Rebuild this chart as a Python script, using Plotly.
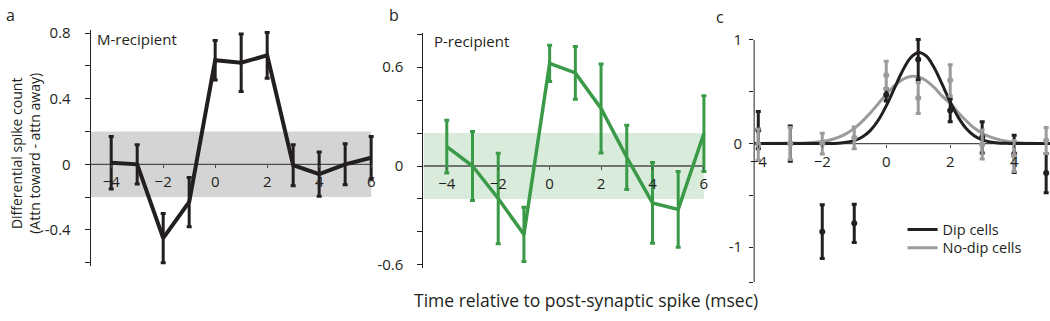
import plotly.graph_objects as go

# ---------------- data ----------------
lags_ab = [-4, -3, -2, -1, 0, 1, 2, 3, 4, 5, 6]
m_vals = [0.01, 0.0, -0.45, -0.23, 0.635, 0.62, 0.665, -0.005, -0.06, 0.0, 0.04]
m_err = [0.16, 0.12, 0.15, 0.15, 0.12, 0.175, 0.14, 0.125, 0.135, 0.125, 0.13]

p_vals = [0.117, 0.0, -0.197, -0.415, 0.623, 0.565, 0.349, 0.053, -0.224, -0.263, 0.197]
p_err = [0.16, 0.21, 0.275, 0.165, 0.11, 0.16, 0.27, 0.195, 0.245, 0.23, 0.23]

band_half = 0.2

lags_c = [-4, -3, -2, -1, 0, 1, 2, 3, 4, 5]
dip_vals = [0.13, 0.0, -0.85, -0.77, 0.47, 0.81, 0.32, 0.06, -0.10, -0.285]
dip_err = [0.18, 0.17, 0.26, 0.185, 0.06, 0.195, 0.11, 0.15, 0.18, 0.19]
nodip_vals = [-0.01, 0.0, 0.0, 0.055, 0.66, 0.44, 0.61, -0.01, -0.12, 0.03]
nodip_err = [0.15, 0.155, 0.10, 0.105, 0.135, 0.15, 0.15, 0.14, 0.15, 0.125]

fit_x = [-4.13, -3.0, -2.5, -2.0, -1.75, -1.5, -1.25, -1.0, -0.75, -0.5, -0.25, 0.0,
         0.25, 0.5, 0.75, 1.0, 1.25, 1.5, 1.75, 2.0, 2.25, 2.5, 2.75, 3.0, 3.25,
         3.5, 3.75, 4.0, 4.25, 4.5, 5.12]
dip_fit = [0.0, 0.0, 0.0, 0.0, 0.0, 0.004, 0.012, 0.028, 0.063, 0.125, 0.225, 0.364,
           0.53, 0.696, 0.824, 0.879, 0.845, 0.732, 0.571, 0.402, 0.255, 0.145, 0.075,
           0.035, 0.015, 0.005, 0.002, 0.0, 0.0, 0.0, 0.0]
nodip_fit = [0.0, 0.002, 0.005, 0.019, 0.034, 0.059, 0.096, 0.147, 0.214, 0.294, 0.384,
             0.475, 0.556, 0.616, 0.647, 0.644, 0.606, 0.541, 0.457, 0.39, 0.30, 0.22,
             0.15, 0.10, 0.065, 0.04, 0.022, 0.012, 0.006, 0.003, 0.0]

ab_xticks = [-4, -2, 0, 2, 4, 6]
c_xticks = [-4, -2, 0, 2, 4]
a_yticks = [-0.6, -0.4, -0.2, 0, 0.2, 0.4, 0.6, 0.8]
a_ytext = ["", "-0.4", "", "0", "", "0.4", "", "0.8"]
b_yticks = [-0.6, -0.4, -0.2, 0, 0.2, 0.4, 0.6, 0.8]
b_ytext = ["-0.6", "", "", "0", "", "", "0.6", ""]
c_yticks = [-1.337, -1, -0.5, 0, 0.5, 1]
c_ytext = ["", "-1", "", "0", "", "1"]

# ---------------- style ----------------
BLACK = "#231f20"
GREEN = "#3a9a47"
GREEN_BAND = "#d9ecdb"
GRAY_BAND = "#d4d4d4"
GRAY = "#9b9b9b"
AXLINE = "#4d4d4d"
FONT = "Open Sans"
W, H = 1050, 321

def px_dom_x(a, b):
    return [a / W, b / W]

def px_dom_y(top, bottom):
    return [1 - bottom / H, 1 - top / H]

xr_a = [-4.79, 6.17]
yr_a = [-0.62, 0.82]
xr_b = [-4.91, 6.21]
yr_b = [-0.62, 0.81]
xr_c = [-4.13, 5.12]
yr_c = [-1.36, 1.04]

dx_a = px_dom_x(87, 373)
dy_a = px_dom_y(23.9, 269.9)
dx_b = px_dom_x(421, 708)
dy_b = px_dom_y(26.6, 272.2)
dx_c = px_dom_x(753, 1050)
dy_c = px_dom_y(30.0, 289.2)

def zero_pos(dom, rng):
    return dom[0] + (0 - rng[0]) / (rng[1] - rng[0]) * (dom[1] - dom[0])

fig = go.Figure()

def err(arr, color, thick=3):
    return dict(type="data", array=arr, visible=True, color=color, thickness=thick, width=2.5)

# panel a
fig.add_trace(go.Scatter(x=lags_ab, y=m_vals, mode="lines", line=dict(color=BLACK, width=4),
                         error_y=err(m_err, BLACK), xaxis="x", yaxis="y", showlegend=False,
                         hoverinfo="skip"))
# panel b
fig.add_trace(go.Scatter(x=lags_ab, y=p_vals, mode="lines", line=dict(color=GREEN, width=3.5),
                         error_y=err(p_err, GREEN), xaxis="x2", yaxis="y2", showlegend=False,
                         hoverinfo="skip"))
# panel c fits
fig.add_trace(go.Scatter(x=fit_x, y=nodip_fit, mode="lines", line=dict(color=GRAY, width=3, shape="spline"),
                         xaxis="x3", yaxis="y3", name="No-dip cells", showlegend=True, legend="legend2"))
fig.add_trace(go.Scatter(x=fit_x, y=dip_fit, mode="lines", line=dict(color=BLACK, width=3, shape="spline"),
                         xaxis="x3", yaxis="y3", name="Dip cells", showlegend=True, legend="legend"))
# panel c data
fig.add_trace(go.Scatter(x=lags_c, y=dip_vals, mode="markers", marker=dict(color=BLACK, size=6),
                         error_y=err(dip_err, BLACK), xaxis="x3", yaxis="y3", showlegend=False,
                         cliponaxis=False))
fig.add_trace(go.Scatter(x=lags_c, y=nodip_vals, mode="markers", marker=dict(color=GRAY, size=6),
                         error_y=err(nodip_err, GRAY), xaxis="x3", yaxis="y3", showlegend=False,
                         cliponaxis=False))

shapes = [
    dict(type="rect", xref="x", yref="y", x0=xr_a[0], x1=6, y0=-band_half, y1=band_half,
         fillcolor=GRAY_BAND, line=dict(width=0), layer="below"),
    dict(type="line", xref="x", yref="y", x0=xr_a[0], x1=6, y0=0, y1=0,
         line=dict(color=AXLINE, width=1.3), layer="below"),
    dict(type="rect", xref="x2", yref="y2", x0=xr_b[0], x1=6, y0=-band_half, y1=band_half,
         fillcolor=GREEN_BAND, line=dict(width=0), layer="below"),
    dict(type="line", xref="x2", yref="y2", x0=xr_b[0], x1=6, y0=0, y1=0,
         line=dict(color=AXLINE, width=1.3), layer="below"),
    dict(type="line", xref="x3", yref="y3", x0=xr_c[0], x1=xr_c[1], y0=0, y1=0,
         line=dict(color=AXLINE, width=1.3), layer="below"),
    dict(type="line", xref="x3 domain", yref="y3", x0=0, x1=0, y0=-1.337, y1=1.0,
         line=dict(color=BLACK, width=1), layer="below"),
]

tickfont = dict(family=FONT, size=15, color=BLACK)

def xaxis(dom, rng, ypos, ticks):
    return dict(domain=dom, range=rng, anchor="free", position=ypos, showline=False,
                showgrid=False, zeroline=False, ticks="outside", ticklen=3, tickwidth=1,
                tickcolor=AXLINE, tickvals=ticks, tickfont=tickfont, ticklabelstandoff=1,
                fixedrange=True)

def yaxis(dom, rng, anchor, vals, text, line=True, ticklen=5, standoff=11):
    return dict(domain=dom, range=rng, anchor=anchor, showline=line, linecolor=BLACK, linewidth=1,
                showgrid=False, zeroline=False, ticks="outside", ticklen=ticklen, tickwidth=1,
                tickcolor=BLACK, tickvals=vals, ticktext=text, tickfont=tickfont,
                ticklabelstandoff=standoff, fixedrange=True)

legfont = dict(family=FONT, size=14.5, color=BLACK)

fig.update_layout(
    width=W, height=H,
    margin=dict(l=0, r=0, t=0, b=0),
    paper_bgcolor="white", plot_bgcolor="rgba(0,0,0,0)",
    font=dict(family=FONT, color=BLACK),
    xaxis=xaxis(dx_a, xr_a, zero_pos(dy_a, yr_a), ab_xticks),
    yaxis=yaxis(dy_a, yr_a, "x", a_yticks, a_ytext),
    xaxis2=xaxis(dx_b, xr_b, zero_pos(dy_b, yr_b), ab_xticks),
    yaxis2=yaxis(dy_b, yr_b, "x2", b_yticks, b_ytext),
    xaxis3=xaxis(dx_c, xr_c, zero_pos(dy_c, yr_c), c_xticks),
    yaxis3=yaxis(dy_c, yr_c, "x3", c_yticks, c_ytext, line=False, ticklen=4, standoff=4),
    shapes=shapes,
    showlegend=True,
    legend=dict(x=902 / W, xanchor="left", y=1 - 232 / H, yanchor="middle",
                bgcolor="rgba(0,0,0,0)", borderwidth=0, font=legfont,
                itemclick=False, itemdoubleclick=False),
    legend2=dict(x=902 / W, xanchor="left", y=1 - 251 / H, yanchor="middle",
                 bgcolor="rgba(0,0,0,0)", borderwidth=0, font=legfont,
                 itemclick=False, itemdoubleclick=False),
)

def ann(text, xpx, ypx, size=15, xanchor="left", yanchor="middle", angle=0):
    fig.add_annotation(text=text, x=xpx / W, y=1 - ypx / H, xref="paper", yref="paper",
                       showarrow=False, xanchor=xanchor, yanchor=yanchor, textangle=angle,
                       font=dict(family=FONT, size=size, color=BLACK))

ann("a", 0, 8, size=16)
ann("b", 384, 8, size=16)
ann("c", 713, 10, size=16)
ann("M-recipient", 91, 33, size=15)
ann("P-recipient", 430, 35, size=15)
ann("Differential spike count<br>(Attn toward - attn away)", 22, 152, size=14,
    xanchor="center", angle=-90)
ann("Time relative to post-synaptic spike (msec)", 584, 305, size=17.5, xanchor="center")

fig.write_html("out.html", config={"displayModeBar": False},
               post_script="document.body.style.margin='0';")
